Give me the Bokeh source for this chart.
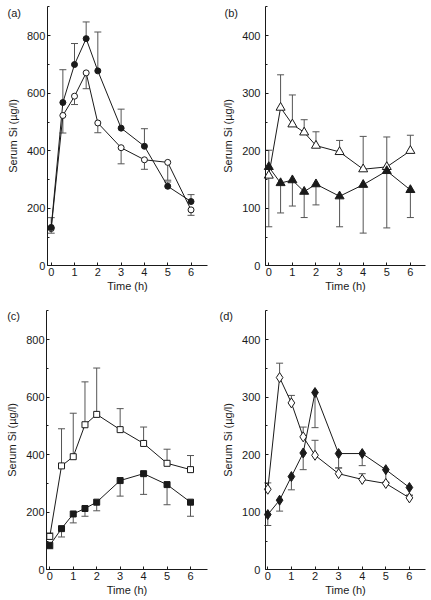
from bokeh.plotting import figure
from bokeh.layouts import gridplot
from bokeh.models import Label, SingleIntervalTicker, Range1d
from bokeh.embed import file_html
from bokeh.resources import INLINE

# ---------------- data ----------------
time = [0, 0.5, 1, 1.5, 2, 3, 4, 5, 6]

# panel (a)
a_filled = [134, 568, 700, 790, 678, 479, 416, 277, 224]
a_filled_err = [168, 682, 773, 848, 813, 545, 477, 292, 248]
a_open = [130, 523, 590, 671, 497, 411, 369, 360, 195]
a_open_err = [114, 462, 561, 616, 463, 355, 336, 298, 176]

# panel (b)
b_open = [157, 275, 246, 232, 209, 198, 168, 172, 200]
b_open_err = [201, 332, 297, 254, 233, 218, 225, 224, 227]
b_filled = [172, 144, 149, 129, 142, 121, 141, 165, 132]
b_filled_err = [68, 92, 104, 84, 106, 68, 57, 66, 84]

# panel (c)
c_open = [116, 361, 393, 504, 540, 487, 439, 370, 348]
c_open_err = [128, 490, 544, 653, 701, 560, 496, 419, 397]
c_filled = [85, 143, 194, 213, 235, 310, 334, 296, 235]
c_filled_err = [73, 114, 163, 186, 205, 256, 262, 226, 186]

# panel (d)
d_open = [140, 334, 290, 231, 199, 167, 157, 150, 125]
d_open_err = [151, 359, 303, 248, 225, 177, 167, 152, 129]
d_filled = [96, 121, 162, 203, 308, 202, 202, 174, 143]
d_filled_err = [77, 102, 139, 174, 247, 177, 181, 152, 130]

panel_labels = ["(a)", "(b)", "(c)", "(d)"]
x_label = "Time (h)"
y_label = "Serum Si (\u00b5g/l)"

FONT = "Liberation Sans"
INK = "#1a1a1a"
ERR = "#555555"


def make_panel(label, ymax, major, series, width, height,
               xr, yr, yaxis_at, xend, lab_x, lab_y, tick_standoff, lab_standoff):
    p = figure(width=width, height=height, output_backend="svg",
               toolbar_location=None,
               x_range=Range1d(*xr), y_range=Range1d(*yr),
               min_border=0)
    p.outline_line_color = None
    p.grid.visible = False
    p.background_fill_color = "white"
    p.border_fill_color = "white"

    for vals, err, marker, size, fill in series:
        p.segment(x0=time, y0=vals, x1=time, y1=err, line_color=ERR, line_width=1)
        p.scatter(time, err, marker="dash", size=7, line_color=ERR, line_width=1)
    for vals, err, marker, size, fill in series:
        p.line(time, vals, line_color=INK, line_width=1)
    for vals, err, marker, size, fill in series:
        p.scatter(time, vals, marker=marker, size=size, fill_color=fill,
                  line_color=INK, line_width=1)

    p.xaxis.ticker = SingleIntervalTicker(interval=1, num_minor_ticks=0)
    p.yaxis.ticker = SingleIntervalTicker(interval=major, num_minor_ticks=2)
    p.yaxis.fixed_location = yaxis_at
    p.xaxis.fixed_location = 0
    p.xaxis.bounds = (yaxis_at, xend)
    p.yaxis.bounds = (0, ymax)
    for ax in (p.xaxis[0], p.yaxis[0]):
        ax.axis_line_color = INK
        ax.axis_line_width = 1
        ax.major_tick_in = 3
        ax.major_tick_out = 0
        ax.minor_tick_in = 2
        ax.minor_tick_out = 0
        ax.major_tick_line_color = INK
        ax.minor_tick_line_color = INK
        ax.major_label_text_font = FONT
        ax.major_label_text_font_size = "11px"
        ax.major_label_text_color = INK
        ax.axis_label_text_font = FONT
        ax.axis_label_text_font_size = "11px"
        ax.axis_label_text_font_style = "normal"
        ax.axis_label_text_color = INK
    p.xaxis.minor_tick_line_color = None
    p.xaxis.axis_label = x_label
    p.yaxis.axis_label = y_label
    p.xaxis.major_label_standoff = 2
    p.xaxis.axis_label_standoff = 1
    p.yaxis.major_label_standoff = tick_standoff
    p.yaxis.axis_label_standoff = lab_standoff

    p.add_layout(Label(x=lab_x, y=lab_y, text=label, text_font=FONT,
                       text_font_size="11px", text_color=INK,
                       text_align="left", text_baseline="middle"))
    return p


pa = make_panel(panel_labels[0], 900, 200,
                [(a_open, a_open_err, "circle", 6, "white"),
                 (a_filled, a_filled_err, "circle", 6, INK)],
                215, 300, (-2.176, 7.05), (-119.9, 922.5), -0.17, 6.708,
                -1.876, 878, 2, 5)
pb = make_panel(panel_labels[1], 450, 100,
                [(b_open, b_open_err, "triangle", 9, "white"),
                 (b_filled, b_filled_err, "triangle", 9, INK)],
                216, 300, (-2.258, 6.895), (-60.1, 461.1), -0.14, 6.64,
                -1.877, 439, 5, 5)
pc = make_panel(panel_labels[2], 900, 200,
                [(c_open, c_open_err, "square", 6, "white"),
                 (c_filled, c_filled_err, "square", 6, INK)],
                215, 300, (-2.102, 7.066), (-106.7, 935.7), -0.14, 6.73,
                -1.816, 882, 2, 5)
pd = make_panel(panel_labels[3], 450, 100,
                [(d_open, d_open_err, "diamond", 10, "white"),
                 (d_filled, d_filled_err, "diamond", 10, INK)],
                216, 300, (-2.216, 6.936), (-53.3, 467.9), -0.10, 6.68,
                -2.047, 441, 5, 5)

grid = gridplot([[pa, pb], [pc, pd]], toolbar_location=None)

open("out.html", "w").write(file_html(grid, INLINE))
